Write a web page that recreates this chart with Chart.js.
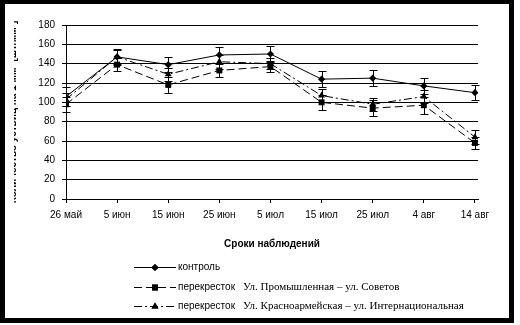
<!DOCTYPE html>
<html>
<head>
<meta charset="utf-8">
<script src="https://cdn.jsdelivr.net/npm/chart.js@4/dist/chart.umd.min.js"></script>
<style>
  html, body { margin: 0; padding: 0; background: #ffffff; width: 520px; height: 325px; overflow: hidden; }
  #frame { position: absolute; left: 0; top: 0; width: 514px; height: 323px; background: #000000; }
  #inner { position: absolute; left: 5px; top: 4px; width: 504px; height: 314px; background: #ffffff; }
  #wrap { position: absolute; left: 14px; top: 4px; width: 495px; height: 314px; }
</style>
</head>
<body>
<div id="frame"></div>
<div id="inner"></div>
<div id="wrap"><canvas id="c" width="495" height="314"></canvas></div>
<script>
// ---- data ----
const categories = ['26 май', '5 июн', '15 июн', '25 июн', '5 июл', '15 июл', '25 июл', '4 авг', '14 авг'];
const controlValues = [106, 147, 139, 149, 150, 124, 125, 117, 110];
const controlErr    = [10, 8, 8, 8, 8, 8, 8, 8, 8];
const promValues    = [98, 139, 118, 133, 137, 100, 94, 97, 58];
const promErr       = [8, 7, 8, 7, 6, 8, 8, 9, 6];
const krasValues    = [103, 147, 129, 142, 140, 107, 98, 106, 64];
const krasErr       = [7, 7, 7, 7, 6, 7, 7, 7, 7];
const seriesPrefix  = ['контроль', 'перекресток', 'перекресток'];
const seriesStreet  = ['', 'Ул. Промышленная – ул. Советов', 'Ул. Красноармейская – ул. Интернациональная'];
const yTicks = [0, 20, 40, 60, 80, 100, 120, 140, 160, 180];
const xTitle = 'Сроки наблюдений';
const yTitle = 'Количество устьиц на 1 мм² [шт/мм²]';

const SANS = "'Liberation Sans', Arial, sans-serif";
const SERIF = "'Liberation Serif', 'Times New Roman', serif";
Chart.defaults.font.family = SANS;
Chart.defaults.font.size = 10;
Chart.defaults.color = '#000000';

const toPts = arr => arr.map((v, i) => ({ x: i, y: v }));

const styles = [
  { dash: [], point: 'rectRot', radius: 3.6 },
  { dash: [8, 4], point: 'rect', radius: 4.2 },
  { dash: [8, 3, 2, 3], point: 'triangle', radius: 4 }
];
const errs = [controlErr, promErr, krasErr];

const datasets = [controlValues, promValues, krasValues].map((vals, i) => ({
  label: (seriesPrefix[i] + '  ' + seriesStreet[i]).trim(),
  data: toPts(vals),
  borderColor: '#000000',
  backgroundColor: '#000000',
  borderWidth: 1,
  borderDash: styles[i].dash,
  pointStyle: styles[i].point,
  pointRadius: styles[i].radius,
  pointBorderWidth: 0,
  pointBackgroundColor: '#000000',
  pointBorderColor: '#000000',
  tension: 0,
  fill: false
}));

// error bars drawn through the scales
const errorBars = {
  id: 'errorBars',
  afterDatasetsDraw(chart) {
    const { ctx, scales: { x, y } } = chart;
    ctx.save();
    ctx.strokeStyle = '#000000';
    ctx.lineWidth = 1;
    ctx.setLineDash([]);
    chart.data.datasets.forEach((ds, di) => {
      ds.data.forEach((p, i) => {
        const e = errs[di][i];
        const px = Math.round(x.getPixelForValue(p.x)) + 0.5;
        const yt = Math.round(y.getPixelForValue(p.y + e)) + 0.5;
        const yb = Math.round(y.getPixelForValue(p.y - e)) + 0.5;
        ctx.beginPath();
        ctx.moveTo(px, yt); ctx.lineTo(px, yb);
        ctx.moveTo(px - 4, yt); ctx.lineTo(px + 4, yt);
        ctx.moveTo(px - 4, yb); ctx.lineTo(px + 4, yb);
        ctx.stroke();
      });
    });
    ctx.restore();
  }
};

// legend with mixed fonts
const customLegend = {
  id: 'customLegend',
  afterDraw(chart) {
    const { ctx } = chart;
    const rowsY = [263, 283, 302];
    const x0 = 120, x1 = 162, textX = 164;
    ctx.save();
    chart.data.datasets.forEach((ds, i) => {
      const yy = rowsY[i] + 0.5;
      ctx.strokeStyle = '#000000';
      ctx.lineWidth = 1;
      ctx.setLineDash(styles[i].dash);
      ctx.beginPath();
      ctx.moveTo(x0, yy); ctx.lineTo(x1, yy);
      ctx.stroke();
      ctx.setLineDash([]);
      ctx.fillStyle = '#000000';
      Chart.helpers.drawPoint(ctx, { pointStyle: styles[i].point, radius: styles[i].radius, borderWidth: 0 }, (x0 + x1) / 2, yy);
      ctx.fill();
      ctx.textBaseline = 'middle';
      ctx.textAlign = 'left';
      ctx.font = '10px ' + SANS;
      ctx.fillText(seriesPrefix[i], textX, yy);
      if (seriesStreet[i]) {
        const w = ctx.measureText(seriesPrefix[i]).width;
        ctx.font = '11px ' + SERIF;
        ctx.fillText(seriesStreet[i], textX + w + 8, yy);
      }
    });
    ctx.restore();
  }
};

new Chart(document.getElementById('c'), {
  type: 'line',
  data: { datasets },
  plugins: [errorBars, customLegend],
  options: {
    responsive: false,
    animation: false,
    layout: { padding: { left: 0, right: 31, top: 21, bottom: 68 } },
    plugins: { legend: { display: false }, tooltip: { enabled: false } },
    scales: {
      x: {
        type: 'linear',
        min: 0,
        max: 8.06,
        afterFit(scale) { scale.height = 51; },
        afterBuildTicks(scale) { scale.ticks = categories.map((c, i) => ({ value: i })); },
        ticks: {
          autoSkip: false, maxRotation: 0, padding: 6,
          callback: v => categories[v],
          font: { size: 10 }, color: '#000000'
        },
        grid: { drawOnChartArea: false, drawTicks: true, tickLength: 4, color: '#000000' },
        border: { display: true, color: '#000000', width: 1 },
        title: { display: true, text: xTitle, font: { size: 10, weight: 'bold' }, color: '#000000', padding: { top: 0, bottom: 0 } }
      },
      y: {
        min: 0,
        max: 180,
        afterFit(scale) { scale.width = 52; },
        afterBuildTicks(scale) { scale.ticks = yTicks.map(v => ({ value: v })); },
        ticks: { padding: 7, font: { size: 10 }, color: '#000000' },
        grid: { color: '#000000', lineWidth: 1, drawTicks: true, tickLength: 4 },
        border: { display: true, color: '#000000', width: 1 },
        title: { display: true, text: yTitle, font: { size: 10, weight: 'bold' }, color: '#000000', padding: { top: -7, bottom: 0 } }
      }
    }
  }
});
</script>
</body>
</html>
